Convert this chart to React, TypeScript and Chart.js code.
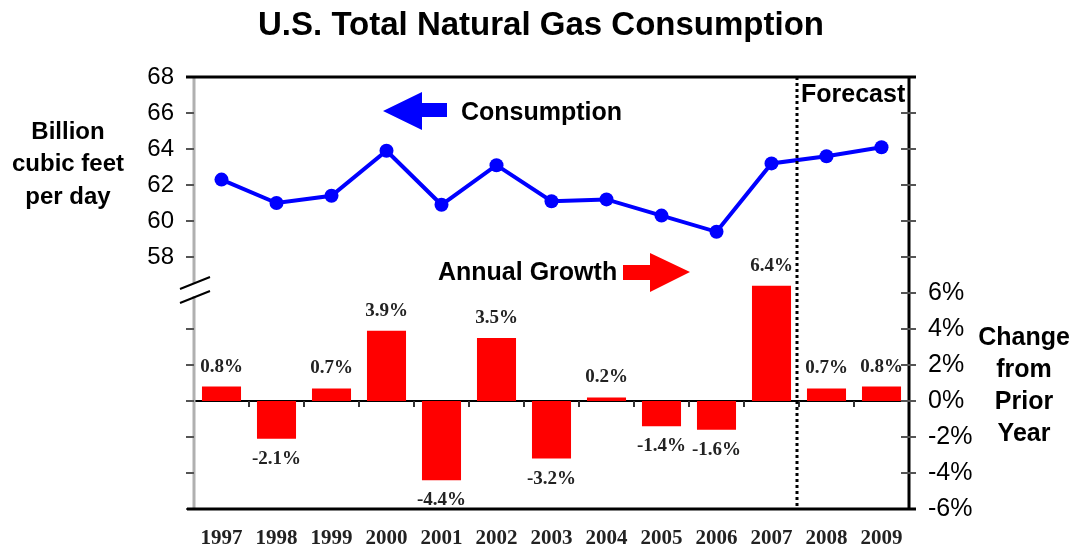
import React, { useEffect, useRef } from 'react';
import { Chart, registerables } from 'chart.js';

Chart.register(...registerables);

const years = ['1997', '1998', '1999', '2000', '2001', '2002', '2003', '2004', '2005', '2006', '2007', '2008', '2009'];
const consumption = [62.3, 61.0, 61.4, 63.9, 60.9, 63.1, 61.1, 61.2, 60.3, 59.4, 63.2, 63.6, 64.1];
const growth = [0.8, -2.1, 0.7, 3.9, -4.4, 3.5, -3.2, 0.2, -1.4, -1.6, 6.4, 0.7, 0.8];
const growthLabels = growth.map((v) => v.toFixed(1) + '%');
const leftLabelMin = 58;
const rightLabelMax = 6;
const forecastStartIndex = 11;

const SANS = '"Liberation Sans", Arial, sans-serif';
const SERIF = '"Liberation Serif", "Times New Roman", serif';

const overlayPlugin = {
  id: 'overlay',
  beforeDatasetsDraw(chart: any) {
    const ctx = chart.ctx;
    const ca = chart.chartArea;
    const yR = chart.scales.yR;
    const x = chart.scales.x;
    const y0 = yR.getPixelForValue(0);
    ctx.save();
    ctx.strokeStyle = '#000';
    ctx.lineWidth = 2;
    ctx.beginPath();
    ctx.moveTo(ca.left - 7, y0);
    ctx.lineTo(ca.right + 6, y0);
    ctx.stroke();
    // category boundary ticks
    ctx.strokeStyle = '#333';
    ctx.lineWidth = 2;
    for (let i = 0; i < years.length - 1; i++) {
      const bx = (x.getPixelForValue(i) + x.getPixelForValue(i + 1)) / 2;
      ctx.beginPath();
      ctx.moveTo(bx, y0);
      ctx.lineTo(bx, y0 + 6);
      ctx.stroke();
    }
    ctx.restore();
  },
  afterDatasetsDraw(chart: any) {
    const ctx = chart.ctx;
    const ca = chart.chartArea;
    const yL = chart.scales.yL;
    const yR = chart.scales.yR;
    const x = chart.scales.x;
    ctx.save();

    // left axis (gray) with break gap
    ctx.strokeStyle = '#b0b0b0';
    ctx.lineWidth = 3;
    ctx.beginPath();
    ctx.moveTo(ca.left, ca.top);
    ctx.lineTo(ca.left, 284);
    ctx.moveTo(ca.left, 296);
    ctx.lineTo(ca.left, ca.bottom);
    ctx.stroke();
    // left ticks
    ctx.strokeStyle = '#555';
    ctx.lineWidth = 2;
    yL.ticks.forEach((t: any) => {
      const py = yL.getPixelForValue(t.value);
      if (py > 280 && py < 300) return;
      ctx.beginPath();
      ctx.moveTo(ca.left - 8, py);
      ctx.lineTo(ca.left, py);
      ctx.stroke();
    });
    // break marks
    ctx.strokeStyle = '#000';
    ctx.lineWidth = 2;
    ctx.beginPath();
    ctx.moveTo(180, 289);
    ctx.lineTo(210, 277);
    ctx.moveTo(180, 303);
    ctx.lineTo(210, 291);
    ctx.stroke();

    // right axis
    ctx.strokeStyle = '#000';
    ctx.lineWidth = 3;
    ctx.beginPath();
    ctx.moveTo(ca.right, ca.top - 1);
    ctx.lineTo(ca.right, ca.bottom);
    ctx.stroke();
    ctx.strokeStyle = '#555';
    ctx.lineWidth = 2;
    yR.ticks.forEach((t: any) => {
      const py = yR.getPixelForValue(t.value);
      ctx.beginPath();
      ctx.moveTo(ca.right - 8, py);
      ctx.lineTo(ca.right + 7, py);
      ctx.stroke();
    });

    // top and bottom border lines
    ctx.strokeStyle = '#000';
    ctx.lineWidth = 3;
    ctx.beginPath();
    ctx.moveTo(ca.left - 8, ca.top);
    ctx.lineTo(ca.right + 7, ca.top);
    ctx.moveTo(ca.left - 7, ca.bottom);
    ctx.lineTo(ca.right + 7, ca.bottom);
    ctx.stroke();

    // forecast dotted line
    const fx = (x.getPixelForValue(forecastStartIndex - 1) + x.getPixelForValue(forecastStartIndex)) / 2 - 2;
    ctx.setLineDash([3, 3]);
    ctx.lineWidth = 3;
    ctx.beginPath();
    ctx.moveTo(fx, ca.top);
    ctx.lineTo(fx, ca.bottom);
    ctx.stroke();
    ctx.setLineDash([]);
    ctx.fillStyle = '#000';
    ctx.font = 'bold 25px ' + SANS;
    ctx.textAlign = 'left';
    ctx.textBaseline = 'middle';
    ctx.fillText('Forecast', fx + 4, 95);

    // data labels
    const meta = chart.getDatasetMeta(0);
    ctx.font = 'bold 19px ' + SERIF;
    ctx.fillStyle = '#222';
    ctx.textAlign = 'center';
    ctx.textBaseline = 'middle';
    meta.data.forEach((bar: any, i: number) => {
      const v = growth[i];
      const ly = v >= 0 ? bar.y - 20 : bar.y + 20;
      ctx.fillText(growthLabels[i], bar.x, ly);
    });

    // Consumption arrow (left)
    ctx.fillStyle = '#0000ff';
    ctx.beginPath();
    ctx.moveTo(383, 111);
    ctx.lineTo(422, 92);
    ctx.lineTo(422, 103);
    ctx.lineTo(447, 103);
    ctx.lineTo(447, 117);
    ctx.lineTo(422, 117);
    ctx.lineTo(422, 130);
    ctx.closePath();
    ctx.fill();
    ctx.fillStyle = '#000';
    ctx.font = 'bold 25px ' + SANS;
    ctx.textAlign = 'left';
    ctx.fillText('Consumption', 461, 113);

    // Annual growth arrow (right)
    ctx.fillStyle = '#ff0000';
    ctx.beginPath();
    ctx.moveTo(690, 272);
    ctx.lineTo(650, 253);
    ctx.lineTo(650, 265);
    ctx.lineTo(623, 265);
    ctx.lineTo(623, 280);
    ctx.lineTo(650, 280);
    ctx.lineTo(650, 292);
    ctx.closePath();
    ctx.fill();
    ctx.fillStyle = '#000';
    ctx.fillText('Annual Growth', 438, 273);

    // title
    ctx.font = 'bold 33px ' + SANS;
    ctx.textAlign = 'center';
    ctx.fillText('U.S. Total Natural Gas Consumption', 541, 26);

    // left axis title
    ctx.font = 'bold 24px ' + SANS;
    ctx.fillText('Billion', 68, 132);
    ctx.fillText('cubic feet', 68, 164);
    ctx.fillText('per day', 68, 197);

    // right axis title
    ctx.font = 'bold 25px ' + SANS;
    ['Change', 'from', 'Prior', 'Year'].forEach((s, i) => {
      ctx.fillText(s, 1024, 338 + i * 32);
    });

    ctx.restore();
  },
};

export default function App() {
  const ref = useRef<HTMLCanvasElement | null>(null);
  useEffect(() => {
    document.body.style.margin = '0';
    const canvas = ref.current;
    if (!canvas) return;
    const chart = new Chart(canvas, {
      type: 'bar',
      data: {
        labels: years,
        datasets: [
          {
            type: 'bar',
            data: growth,
            yAxisID: 'yR',
            backgroundColor: '#ff0000',
            borderWidth: 0,
            barPercentage: 0.71,
            categoryPercentage: 1.0,
            order: 2,
          } as any,
          {
            type: 'line',
            data: consumption,
            yAxisID: 'yL',
            borderColor: '#0000ff',
            backgroundColor: '#0000ff',
            borderWidth: 4,
            pointRadius: 7,
            pointBorderWidth: 0,
            pointBackgroundColor: '#0000ff',
            tension: 0,
            order: 1,
          } as any,
        ],
      },
      options: {
        responsive: false,
        animation: false,
        layout: { padding: { top: 77, left: 0, right: 0, bottom: 0 } },
        plugins: {
          legend: { display: false },
          title: { display: false },
          tooltip: { enabled: false },
        },
        scales: {
          x: {
            type: 'category',
            offset: true,
            grid: { display: false, drawTicks: false },
            border: { display: false },
            ticks: {
              font: { family: SERIF, size: 21, weight: 'bold' },
              color: '#222',
              padding: 17,
              maxRotation: 0,
              autoSkip: false,
            },
            afterFit: (s: any) => {
              s.height = 39;
            },
          },
          yL: {
            position: 'left',
            min: 44,
            max: 68,
            grid: { display: false, drawTicks: false },
            border: { display: false },
            ticks: {
              stepSize: 2,
              padding: 20,
              color: '#000',
              font: { family: SANS, size: 24 },
              callback: (v: any) => (Number(v) >= leftLabelMin ? String(v) : ''),
            },
            afterFit: (s: any) => {
              s.width = 194;
            },
          },
          yR: {
            position: 'right',
            min: -6,
            max: 18,
            grid: { display: false, drawTicks: false },
            border: { display: false },
            ticks: {
              stepSize: 2,
              padding: 19,
              color: '#000',
              font: { family: SANS, size: 25 },
              callback: (v: any) => (Number(v) <= rightLabelMax ? v + '%' : ''),
            },
            afterFit: (s: any) => {
              s.width = 163;
            },
          },
        },
      } as any,
      plugins: [overlayPlugin],
    });
    return () => chart.destroy();
  }, []);
  return (
    <div style={{ width: 1072, height: 548, background: '#fff' }}>
      <canvas ref={ref} width={1072} height={548} style={{ display: 'block' }} />
    </div>
  );
}
